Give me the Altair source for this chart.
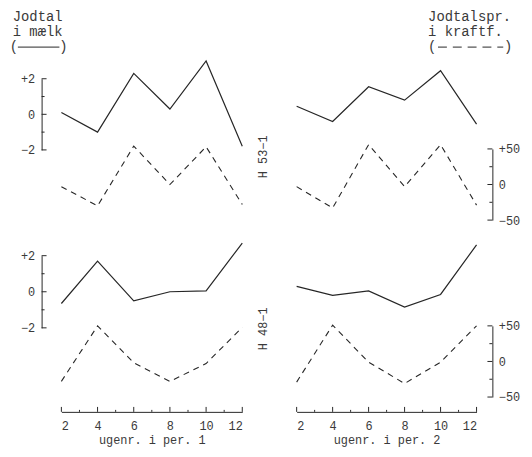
import altair as alt
import pandas as pd

# ---------------- data ----------------
weeks = [2, 4, 6, 8, 10, 12]

h53_p1_milk = [0.1, -1.0, 2.3, 0.3, 3.0, -1.8]
h53_p1_feed = [-3, -30, 54, 0, 53, -28]
h53_p2_milk = [0.45, -0.4, 1.55, 0.8, 2.45, -0.55]
h53_p2_feed = [-3, -33, 56, -3, 56, -29]

h48_p1_milk = [-0.65, 1.7, -0.5, 0.0, 0.05, 2.7]
h48_p1_feed = [-28, 50, -2, -28, -3, 48]
h48_p2_milk = [0.3, -0.2, 0.05, -0.85, -0.15, 2.6]
h48_p2_feed = [-29, 51, -1, -31, -1, 50]

milk_ticks = [-2, 0, 2]
milk_minor = [-1, 1]
feed_ticks = [-50, 0, 50]
feed_minor = [-25, 25]
week_ticks = [2, 4, 6, 8, 10, 12]
week_minor = [3, 5, 7, 9, 11]

rows = ["H 53−1", "H 48−1"]
x_titles = {1: "ugenr. i per. 1", 2: "ugenr. i per. 2"}
head_left = ["Jodtal", "i mælk"]
head_right = ["Jodtalspr.", "i kraftf."]

# ---------------- layout ----------------
W, H = 420, 364
FONT = "Liberation Mono"
INK = "#262626"
TXT = "#3a3a3a"

X_RANGE = {1: [0, 183], 2: [238, 420]}
DOM = {"milk": [-2, 2], "feed": [-50, 50]}
Y_RANGE = {
    (0, "milk"): [99, 27],
    (0, "feed"): [170, 98],
    (1, "milk"): [279, 206],
    (1, "feed"): [349, 277],
}


def xscale(p):
    return alt.Scale(domain=[2, 12], range=X_RANGE[p], nice=False, zero=False)


def yscale(r, kind):
    return alt.Scale(domain=DOM[kind], range=Y_RANGE[(r, kind)], nice=False, zero=False)


SIGN = "datum.value > 0 ? '+' + datum.label : datum.label"


def line(values, p, r, kind, xaxis=None, yaxis=None):
    df = pd.DataFrame({"week": weeks, "v": values})
    if kind == "feed":
        m = alt.Chart(df).mark_line(color=INK, strokeWidth=1.1, strokeDash=[6, 5])
    else:
        m = alt.Chart(df).mark_line(color=INK, strokeWidth=1.2)
    return m.encode(
        x=alt.X("week:Q", scale=xscale(p), axis=xaxis),
        y=alt.Y("v:Q", scale=yscale(r, kind), axis=yaxis),
    )


def yticks(values, r, kind, x0, x1):
    df = pd.DataFrame({"v": values})
    return alt.Chart(df).mark_rule(color=INK, strokeWidth=1).encode(
        y=alt.Y("v:Q", scale=yscale(r, kind), axis=None),
        x=alt.value(x0), x2=alt.value(x1),
    )


def xticks(values, p, length):
    df = pd.DataFrame({"w": values})
    return alt.Chart(df).mark_rule(color=INK, strokeWidth=1).encode(
        x=alt.X("w:Q", scale=xscale(p), axis=None),
        y=alt.value(H), y2=alt.value(H - length),
    )


def text(t, x, y, align="center", size=14, angle=None):
    kw = dict(font=FONT, fontSize=size, color=TXT, align=align, baseline="middle")
    if angle is not None:
        kw["angle"] = angle
    return alt.Chart(pd.DataFrame({"t": [t]})).mark_text(**kw).encode(
        text="t:N", x=alt.value(x), y=alt.value(y)
    )


def hrule(x0, x1, y, dash=None):
    kw = dict(color=INK, strokeWidth=1)
    if dash:
        kw["strokeDash"] = dash
    return alt.Chart(pd.DataFrame({"a": [0]})).mark_rule(**kw).encode(
        x=alt.value(x0), x2=alt.value(x1), y=alt.value(y)
    )


def xaxis(p):
    return alt.Axis(orient="bottom", values=week_ticks, title=x_titles[p],
                    labelPadding=9, titlePadding=3)


left_axis = alt.Axis(orient="left", offset=20, values=milk_ticks, labelExpr=SIGN,
                     labelPadding=7, title=None)
right_axis = alt.Axis(orient="right", offset=16, values=feed_ticks, labelExpr=SIGN,
                      labelPadding=6, title=None)

layers = [
    # H 53-1
    line(h53_p1_milk, 1, 0, "milk", xaxis=xaxis(1), yaxis=left_axis),
    line(h53_p1_feed, 1, 0, "feed"),
    line(h53_p2_milk, 2, 0, "milk", xaxis=xaxis(2)),
    line(h53_p2_feed, 2, 0, "feed", yaxis=right_axis),
    # H 48-1
    line(h48_p1_milk, 1, 1, "milk", yaxis=left_axis),
    line(h48_p1_feed, 1, 1, "feed"),
    line(h48_p2_milk, 2, 1, "milk"),
    line(h48_p2_feed, 2, 1, "feed", yaxis=right_axis),
]

# inward axis ticks
for r in (0, 1):
    layers.append(yticks(milk_ticks, r, "milk", -20, -15))
    layers.append(yticks(milk_minor, r, "milk", -20, -17))
    layers.append(yticks(feed_ticks, r, "feed", W + 16, W + 11))
    layers.append(yticks(feed_minor, r, "feed", W + 16, W + 13))
for p in (1, 2):
    layers.append(xticks(week_ticks, p, 5))
    layers.append(xticks(week_minor, p, 2))

# row labels
layers.append(text(rows[0], 204, 106, size=12, angle=270))
layers.append(text(rows[1], 204, 280, size=12, angle=270))

# headers (legend of line styles)
HY = -35
layers.append(text(head_left[0], -24, HY))
layers.append(text(head_left[1], -24, HY + 15))
layers.append(text("(", -48, HY + 30))
layers.append(text(")", 2, HY + 30))
layers.append(hrule(-44, -2, HY + 30))
layers.append(text(head_right[0], 371, HY, align="left"))
layers.append(text(head_right[1], 371, HY + 15, align="left"))
layers.append(text("(", 375, HY + 30))
layers.append(text(")", 452, HY + 30))
layers.append(hrule(381, 447, HY + 30, dash=[9, 6]))

chart = (
    alt.layer(*layers)
    .resolve_scale(x="independent", y="independent")
    .resolve_axis(x="independent", y="independent")
    .properties(
        width=W,
        height=H,
        padding={"left": 54, "top": 42, "right": 48, "bottom": 35},
        autosize=alt.AutoSizeParams(type="none"),
        background="white",
    )
    .configure_view(stroke=None)
    .configure_axis(
        grid=False,
        ticks=False,
        tickSize=0,
        domainColor=INK,
        domainWidth=1,
        labelFont=FONT,
        labelFontSize=12,
        labelColor=TXT,
        titleFont=FONT,
        titleFontSize=12,
        titleFontWeight="normal",
        titleColor=TXT,
    )
)

chart.save("out.html", embed_options={"renderer": "svg", "actions": False})
